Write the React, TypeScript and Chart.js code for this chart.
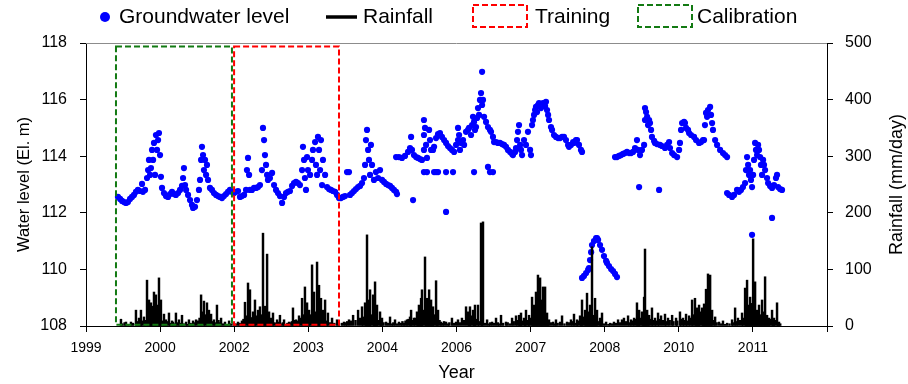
import React, { useEffect, useRef } from 'react';
import { Chart, registerables } from 'chart.js';

Chart.register(...registerables);

// x axis is measured in days from the first tick; one labelled tick every 500 days
const xTickLabels = ['1999', '2000', '2002', '2003', '2004', '2006', '2007', '2008', '2010', '2011'];
const xTickStepDays = 500;
const xAxisEndDay = 4894;

// Groundwater level (El. m) readings: [day, level]
const gwSegment1: [number, number][] = [
  [211, 112.56], [225, 112.49], [238, 112.42], [251, 112.38], [264, 112.35], [277, 112.38], [291, 112.49], [304, 112.56],
  [317, 112.63], [330, 112.74], [343, 112.81], [357, 112.77], [370, 113.02], [376, 112.74], [390, 112.81], [403, 113.23],
  [410, 113.51], [416, 113.87], [423, 113.34], [429, 113.58], [436, 114.22], [443, 113.87], [449, 114.47], [456, 113.34],
  [462, 114.75], [469, 114.22], [476, 114.57], [482, 114.82], [489, 114.04], [495, 113.27], [502, 112.88], [515, 112.70],
  [528, 112.59], [542, 112.56], [555, 112.66], [568, 112.74], [581, 112.66], [594, 112.63], [608, 112.70], [621, 112.81],
  [634, 112.95], [641, 113.23], [647, 113.58], [654, 112.98], [661, 112.81], [674, 112.63], [687, 112.45], [700, 112.28],
  [707, 112.17], [720, 112.21], [733, 112.45], [746, 112.81], [753, 113.16], [760, 113.87], [766, 114.33], [773, 114.04],
  [779, 113.51], [786, 113.87], [793, 113.34], [799, 113.69], [806, 113.16], [819, 112.88], [832, 112.81], [845, 112.70],
  [859, 112.63], [872, 112.59], [885, 112.56], [898, 112.52], [911, 112.59], [925, 112.66], [938, 112.74], [951, 112.81],
  [964, 112.74], [978, 112.70], [991, 112.74], [1004, 112.77], [1017, 112.56], [1030, 112.59], [1044, 112.63], [1057, 112.81],
  [1063, 113.51], [1070, 113.94], [1077, 113.34], [1083, 112.81], [1096, 112.81], [1110, 112.88], [1123, 112.88], [1136, 112.91],
  [1149, 112.98], [1162, 113.51], [1169, 115.0], [1176, 114.57], [1182, 114.04], [1189, 113.69], [1196, 113.34], [1202, 113.16],
  [1215, 113.23], [1229, 113.41], [1242, 112.98], [1255, 112.81], [1268, 112.70], [1281, 112.59], [1295, 112.35], [1308, 112.56],
  [1321, 112.70], [1334, 112.74], [1347, 112.77], [1361, 112.95], [1374, 113.05], [1387, 113.09], [1400, 113.05], [1413, 112.98],
  [1427, 113.51], [1433, 114.33], [1440, 113.87], [1446, 113.23], [1453, 112.81], [1460, 113.97], [1466, 113.51], [1480, 113.34],
  [1493, 113.87], [1499, 114.22], [1513, 114.5], [1519, 113.69], [1526, 113.34], [1532, 114.68], [1539, 114.22], [1546, 113.51],
  [1552, 114.57], [1559, 112.98], [1565, 113.87], [1579, 113.34], [1592, 112.91], [1605, 112.84], [1618, 112.81], [1631, 112.77],
  [1645, 112.74], [1658, 112.63], [1671, 112.52], [1684, 112.52], [1697, 112.56], [1711, 112.59], [1724, 113.44], [1737, 113.44],
  [1744, 112.63], [1757, 112.70], [1770, 112.77], [1783, 112.84], [1797, 112.91], [1810, 112.95], [1823, 113.05], [1836, 113.23],
  [1843, 113.69], [1849, 114.57], [1856, 114.93], [1863, 114.22], [1869, 113.87], [1876, 113.34], [1882, 114.4], [1889, 113.69],
  [1902, 113.16], [1915, 113.44], [1929, 113.23], [1942, 113.51], [1955, 113.16], [1968, 113.09], [1982, 113.02], [1995, 112.98],
  [2008, 112.95], [2021, 112.88], [2034, 112.81], [2048, 112.74], [2054, 112.66],
];

const gwSegment2: [number, number][] = [
  [2048, 113.97], [2067, 113.97], [2087, 113.94], [2107, 114.01], [2127, 114.15], [2140, 114.29], [2147, 114.68], [2153, 114.22],
  [2166, 114.04], [2180, 113.97], [2193, 113.94], [2206, 113.9], [2219, 113.87], [2232, 115.28], [2232, 114.75], [2232, 114.22],
  [2239, 115.0], [2246, 114.4], [2252, 113.94], [2266, 114.93], [2272, 114.57], [2279, 114.22], [2292, 114.22], [2299, 114.33],
  [2312, 114.64], [2325, 114.78], [2338, 114.82], [2351, 114.68], [2365, 114.57], [2378, 114.47], [2391, 114.36], [2404, 114.29],
  [2417, 114.22], [2431, 114.15], [2444, 114.4], [2457, 115.0], [2457, 114.57], [2464, 114.75], [2470, 114.22], [2477, 114.47],
  [2490, 114.57], [2497, 114.4], [2510, 114.86], [2523, 114.93], [2530, 115.0], [2543, 114.75], [2550, 115.1], [2556, 115.39],
  [2563, 115.21], [2569, 114.93], [2576, 115.03], [2583, 115.35], [2589, 115.7], [2596, 115.46], [2602, 115.99], [2609, 116.23],
  [2616, 115.81], [2622, 115.99], [2629, 115.39], [2642, 115.21], [2655, 115.03], [2668, 114.93], [2675, 114.86], [2688, 114.68],
  [2695, 114.5], [2708, 114.5], [2721, 114.47], [2734, 114.47], [2748, 114.43], [2761, 114.4], [2774, 114.33], [2787, 114.22],
  [2801, 114.15], [2814, 114.08], [2820, 114.04], [2834, 114.15], [2840, 114.29], [2847, 114.57], [2853, 114.86], [2860, 115.1],
  [2867, 114.4], [2873, 114.22], [2880, 114.04], [2893, 114.57], [2906, 114.4], [2919, 114.86], [2933, 114.22], [2939, 114.04],
  [2946, 115.1], [2952, 115.28], [2959, 115.46], [2966, 115.63], [2972, 115.74], [2979, 115.56], [2985, 115.81], [2992, 115.88],
  [3005, 115.7], [3018, 115.88], [3032, 115.77], [3038, 115.92], [3045, 115.63], [3052, 115.46], [3058, 115.28], [3071, 115.03],
  [3078, 114.93], [3091, 114.75], [3104, 114.68], [3118, 114.64], [3131, 114.64], [3144, 114.68], [3157, 114.68], [3170, 114.57],
  [3184, 114.4], [3190, 114.33], [3203, 114.4], [3217, 114.5], [3223, 114.47], [3236, 114.57], [3243, 114.57], [3256, 114.4],
  [3269, 114.22], [3276, 114.15],
];

const gwSegment3: [number, number][] = [
  [3276, 109.7], [3289, 109.77], [3303, 109.87], [3316, 109.98], [3322, 110.05], [3329, 110.33], [3336, 110.61], [3342, 110.86],
  [3355, 111.0], [3369, 111.11], [3375, 111.11], [3382, 111.04], [3395, 110.86], [3408, 110.69], [3421, 110.47], [3435, 110.3],
  [3441, 110.23], [3454, 110.12], [3468, 110.01], [3481, 109.94], [3494, 109.84], [3507, 109.73],
];

const gwSegment4: [number, number][] = [
  [3494, 113.97], [3507, 113.97], [3520, 114.01], [3534, 114.04], [3547, 114.08], [3560, 114.11], [3573, 114.15], [3587, 114.11],
  [3600, 114.11], [3613, 114.15], [3626, 114.29], [3639, 114.57], [3646, 114.22], [3659, 114.04], [3672, 114.22], [3686, 114.4],
  [3692, 115.7], [3692, 115.28], [3699, 115.56], [3706, 115.39], [3712, 115.1], [3719, 115.28], [3725, 115.17], [3732, 114.93],
  [3738, 114.68], [3752, 114.54], [3758, 114.47], [3771, 114.43], [3791, 114.4], [3804, 114.36], [3824, 114.29], [3838, 114.4],
  [3851, 114.5], [3857, 114.29], [3871, 114.11], [3884, 114.04], [3904, 113.97], [3917, 114.22], [3923, 114.47], [3930, 114.93],
  [3937, 115.17], [3950, 115.21], [3956, 115.17], [3963, 115.0], [3976, 114.93], [3983, 114.82], [3996, 114.75], [4016, 114.68],
  [4029, 114.57], [4049, 114.47], [4062, 114.5], [4075, 114.57], [4082, 114.57], [4088, 115.1], [4095, 115.53], [4102, 115.39],
  [4108, 115.63], [4122, 115.74], [4128, 115.46], [4135, 115.17], [4141, 114.93], [4155, 114.57], [4168, 114.4], [4188, 114.22],
  [4207, 114.11], [4221, 114.04], [4234, 113.97],
];

const gwSegment5: [number, number][] = [
  [4234, 112.7], [4247, 112.63], [4267, 112.56], [4280, 112.63], [4300, 112.81], [4313, 112.74], [4326, 112.81], [4339, 112.91],
  [4353, 113.05], [4359, 113.51], [4366, 113.97], [4373, 113.69], [4379, 113.34], [4386, 113.51], [4392, 113.16], [4399, 112.91],
  [4406, 113.34], [4412, 113.87], [4419, 114.47], [4425, 114.22], [4432, 114.04], [4439, 114.4], [4445, 114.22], [4452, 113.97],
  [4458, 113.69], [4465, 113.34], [4472, 113.87], [4478, 113.69], [4485, 113.51], [4498, 113.23], [4505, 113.05], [4518, 112.95],
  [4531, 112.88], [4544, 112.98], [4557, 113.23], [4564, 113.34], [4571, 112.91], [4584, 112.84], [4597, 112.81],
];

const gwOutliers: [number, number][] = [
  [2160, 112.45], [2232, 113.44], [2252, 113.44], [2299, 113.44], [2312, 113.44], [2325, 113.44], [2378, 113.44], [2378, 112.03],
  [2424, 113.44], [2563, 113.44], [2616, 116.98], [2655, 113.62], [2668, 113.44], [2688, 113.44], [3653, 112.91], [3785, 112.81],
  [4399, 111.22], [4531, 111.82],
];

// Rainfall (mm/day): the taller daily bars
const rainDays = [
  231, 264, 297, 330, 350, 363, 383, 403, 416, 429, 436, 449, 462, 469, 482, 495, 515, 528, 548, 568, 594, 614, 634, 661, 680,
  707, 727, 760, 779, 799, 812, 826, 845, 865, 892, 918, 945,
  1004, 1030, 1050, 1070, 1083, 1103, 1116, 1136, 1149, 1169, 1182, 1196, 1209, 1222, 1235, 1262, 1281, 1308, 1341, 1367, 1387,
  1407, 1427, 1446, 1460, 1473, 1493, 1506, 1526, 1539, 1552, 1565, 1579, 1598, 1625, 1658, 1704, 1737, 1764, 1797, 1823, 1843,
  1856, 1869, 1876, 1896, 1909, 1922, 1942, 1955, 1982, 2008, 2041,
  2067, 2100, 2120, 2147, 2166, 2186, 2199, 2213, 2219, 2239, 2252, 2266, 2279, 2292, 2312, 2325, 2345, 2378, 2417, 2444, 2457,
  2483, 2510, 2523, 2536, 2556, 2569, 2589, 2609, 2622, 2649, 2682, 2708, 2741, 2774, 2814, 2840, 2860, 2873, 2893, 2906, 2926,
  2946, 2959, 2972, 2985, 2999, 3005, 3018, 3032, 3045, 3058, 3085,
  3104, 3131, 3144, 3177, 3203, 3223, 3243, 3263, 3276, 3296, 3309, 3322, 3329, 3342, 3355, 3362, 3375, 3395, 3408, 3435, 3461,
  3487, 3514, 3540, 3553, 3580, 3600, 3620, 3639, 3653, 3672, 3686, 3692, 3706, 3719, 3738, 3758, 3778, 3798, 3824, 3844, 3871,
  3897, 3923, 3943, 3963, 3983, 4003, 4022, 4036, 4049, 4069, 4082, 4095, 4108, 4122, 4135, 4155, 4181, 4207, 4234,
  4267, 4287, 4306, 4333, 4353, 4366, 4379, 4386, 4406, 4419, 4432, 4445, 4465, 4472, 4485, 4498, 4511, 4531, 4544, 4564, 4577,
];
const rainMm = [
  12, 7, 7, 28, 14, 28, 16, 81, 46, 41, 35, 60, 55, 37, 85, 46, 21, 11, 23, 9, 23, 11, 19, 7, 11,
  9, 11, 55, 44, 41, 28, 21, 11, 37, 14, 7, 9,
  7, 9, 42, 76, 64, 25, 46, 28, 34, 164, 35, 127, 25, 14, 23, 11, 19, 11, 7, 32, 11,
  18, 49, 69, 41, 28, 108, 60, 113, 72, 49, 28, 46, 23, 14, 11, 7, 11, 19, 28, 34, 41,
  161, 46, 64, 55, 78, 37, 25, 14, 7, 16, 11,
  7, 5, 11, 28, 14, 25, 37, 49, 64, 122, 49, 64, 46, 34, 80, 28, 7, 7, 14, 7, 11,
  14, 34, 25, 34, 28, 37, 37, 182, 184, 11, 7, 14, 19, 7, 14, 18, 19, 23, 14, 28, 19,
  51, 37, 60, 90, 85, 46, 69, 69, 23, 11, 7,
  11, 7, 18, 7, 11, 21, 11, 18, 46, 28, 58, 25, 37, 140, 19, 49, 28, 14, 23, 7, 5,
  7, 11, 11, 14, 18, 11, 14, 41, 28, 25, 51, 136, 28, 19, 32, 14, 23, 18, 21, 14, 19,
  14, 25, 14, 21, 18, 46, 49, 32, 37, 32, 39, 65, 92, 90, 28, 16, 7, 9, 5,
  11, 32, 14, 23, 67, 81, 37, 51, 154, 78, 28, 37, 46, 25, 87, 19, 14, 28, 14, 41, 7,
];

// Rainfall (mm/day): the low daily bars that fill the base of the plot
const drizzleDays = [
  240, 255, 280, 310, 340, 356, 370, 390, 409, 422, 442, 455, 475, 488, 505, 520, 535, 555, 575, 585, 604, 624, 645, 670, 690,
  700, 715, 740, 750, 768, 788, 805, 818, 835, 855, 875, 885, 905, 930, 958, 975, 990,
  1015, 1040, 1060, 1077, 1090, 1109, 1123, 1142, 1156, 1175, 1189, 1202, 1215, 1229, 1245, 1255, 1270, 1290, 1300, 1320, 1330,
  1350, 1360, 1375, 1395, 1415, 1435, 1453, 1466, 1480, 1499, 1513, 1532, 1545, 1559, 1572, 1590, 1610, 1640, 1670, 1690, 1715,
  1725, 1750, 1780, 1810, 1830, 1849, 1862, 1882, 1902, 1915, 1930, 1948, 1965, 1995, 2020, 2030, 2055,
  2080, 2090, 2110, 2130, 2140, 2155, 2175, 2192, 2206, 2226, 2246, 2259, 2272, 2286, 2299, 2318, 2335, 2355, 2365, 2390, 2400,
  2430, 2470, 2497, 2530, 2543, 2563, 2576, 2596, 2616, 2635, 2660, 2670, 2695,
  2720, 2730, 2755, 2785, 2800, 2825, 2850, 2866, 2880, 2900, 2918, 2935, 2952, 2966, 2979, 2992, 3012, 3025, 3039, 3052, 3070,
  3095, 3115, 3160, 3190, 3213, 3233, 3250, 3270, 3285, 3302, 3316, 3336, 3349, 3369, 3385, 3402, 3420, 3450, 3475, 3500, 3527,
  3566, 3590, 3610, 3630, 3646, 3660, 3679, 3699, 3712, 3728, 3746, 3765, 3785, 3810, 3830, 3855, 3880, 3905, 3930, 3950, 3970,
  3992, 4010, 4029, 4042, 4056, 4076, 4089, 4102, 4115, 4128, 4145, 4165, 4195, 4220, 4250,
  4275, 4296, 4320, 4340, 4359, 4372, 4392, 4399, 4412, 4425, 4439, 4452, 4458, 4478, 4491, 4505, 4518, 4537, 4551, 4570, 4585,
];
const drizzleMm = [
  4, 6, 3, 5, 8, 12, 9, 10, 18, 22, 25, 30, 20, 15, 9, 6, 8, 5, 7, 4, 6, 5, 4, 3, 5,
  4, 6, 9, 14, 25, 20, 18, 12, 8, 6, 10, 6, 4, 3, 4, 5, 4,
  5, 12, 18, 20, 15, 12, 18, 14, 20, 22, 18, 16, 10, 8, 6, 5, 7, 4, 6, 3, 5,
  6, 8, 10, 9, 14, 20, 22, 25, 20, 30, 25, 28, 22, 18, 12, 9, 6, 5, 4, 5, 6,
  8, 9, 10, 14, 16, 22, 28, 20, 18, 14, 10, 8, 6, 5, 4, 6, 4,
  5, 8, 9, 12, 16, 10, 14, 18, 20, 28, 25, 30, 22, 18, 20, 14, 10, 5, 8, 4, 6,
  5, 6, 10, 14, 18, 14, 12, 8, 10, 5, 4, 6, 5,
  6, 4, 5, 6, 4, 8, 10, 12, 9, 8, 10, 14, 18, 25, 20, 30, 25, 20, 14, 10, 6,
  4, 5, 4, 6, 8, 5, 9, 12, 16, 20, 14, 18, 12, 10, 8, 6, 4, 3, 4, 5, 6,
  8, 6, 9, 12, 18, 14, 16, 20, 14, 12, 10, 9, 12, 10, 8, 10, 8, 9, 12, 10, 9,
  14, 20, 18, 22, 25, 20, 30, 35, 40, 22, 10, 6, 4, 3, 4,
  6, 8, 10, 14, 22, 30, 25, 40, 30, 22, 18, 16, 20, 18, 14, 10, 12, 8, 10, 6, 4,
];

// Dashed period boxes (days) and their vertical extent (El. m)
const calibrationPeriod = [198, 964];
const trainingPeriod = [978, 1671];
const periodBoxLevels = [108.04, 117.88];

const FONT = "'Liberation Sans', Arial, Helvetica, sans-serif";

export default function App() {
  const canvasRef = useRef<HTMLCanvasElement>(null);

  useEffect(() => {
    if (!canvasRef.current) return;
    const gwPoints = [...gwSegment1, ...gwSegment2, ...gwSegment3, ...gwSegment4, ...gwSegment5, ...gwOutliers].map(
      ([x, y]) => ({ x, y })
    );
    const rainPoints = [
      ...drizzleDays.map((d, i) => ({ x: d, y: drizzleMm[i] })),
      ...rainDays.map((d, i) => ({ x: d, y: rainMm[i] })),
    ];

    const overlay = {
      id: 'overlay',
      afterDatasetsDraw(chart: any) {
        const { ctx, scales } = chart;
        const xs = scales.x;
        const ys = scales.y;
        const box = (range: number[], color: string) => {
          const x1 = xs.getPixelForValue(range[0]);
          const x2 = xs.getPixelForValue(range[1]);
          const y1 = ys.getPixelForValue(periodBoxLevels[1]);
          const y2 = ys.getPixelForValue(periodBoxLevels[0]);
          ctx.save();
          ctx.strokeStyle = color;
          ctx.lineWidth = 2;
          ctx.setLineDash([6, 3]);
          ctx.strokeRect(x1, y1, x2 - x1, y2 - y1);
          ctx.restore();
        };
        box(calibrationPeriod, '#137a13');
        box(trainingPeriod, '#ff0000');
      },
      afterDraw(chart: any) {
        const { ctx, chartArea } = chart;
        ctx.save();
        // top frame line
        ctx.strokeStyle = '#8c8c8c';
        ctx.lineWidth = 1;
        ctx.beginPath();
        ctx.moveTo(chartArea.left, chartArea.top + 0.5);
        ctx.lineTo(chartArea.right, chartArea.top + 0.5);
        ctx.stroke();

        // right axis title, reading bottom to top
        ctx.save();
        ctx.translate(897, (chartArea.top + chartArea.bottom) / 2);
        ctx.rotate(-Math.PI / 2);
        ctx.font = `18px ${FONT}`;
        ctx.fillStyle = '#000';
        ctx.textAlign = 'center';
        ctx.textBaseline = 'middle';
        ctx.fillText('Rainfall (mm/day)', 0, 0);
        ctx.restore();

        // legend
        const ly = 17;
        ctx.font = `21px ${FONT}`;
        ctx.textBaseline = 'middle';
        ctx.textAlign = 'left';
        ctx.fillStyle = '#0000ff';
        ctx.beginPath();
        ctx.arc(105, ly, 5, 0, Math.PI * 2);
        ctx.fill();
        ctx.fillStyle = '#000';
        ctx.fillText('Groundwater level', 119, ly);

        ctx.strokeStyle = '#000';
        ctx.lineWidth = 3.5;
        ctx.beginPath();
        ctx.moveTo(326, ly);
        ctx.lineTo(357, ly);
        ctx.stroke();
        ctx.fillText('Rainfall', 363, ly);

        ctx.lineWidth = 2;
        ctx.setLineDash([6, 3]);
        ctx.strokeStyle = '#ff0000';
        ctx.strokeRect(473, 5, 54, 22);
        ctx.strokeStyle = '#137a13';
        ctx.strokeRect(638, 5, 54, 22);
        ctx.setLineDash([]);
        ctx.fillStyle = '#000';
        ctx.fillText('Training', 535, ly);
        ctx.fillText('Calibration', 697, ly);
        ctx.restore();
      },
    };

    const chart = new Chart(canvasRef.current, {
      type: 'scatter',
      data: {
        datasets: [
          {
            type: 'bar',
            label: 'Rainfall',
            data: rainPoints,
            yAxisID: 'yR',
            backgroundColor: '#000',
            borderWidth: 0,
            barThickness: 1.8,
            order: 0,
          } as any,
          {
            type: 'scatter',
            label: 'Groundwater level',
            data: gwPoints,
            yAxisID: 'y',
            backgroundColor: '#0000ff',
            borderWidth: 0,
            pointRadius: 3.1,
            pointHoverRadius: 3.1,
            order: 1,
          },
        ],
      },
      options: {
        animation: false,
        responsive: false,
        maintainAspectRatio: false,
        devicePixelRatio: 1,
        layout: { padding: { top: 43, left: 0, right: 0, bottom: 0 } },
        plugins: { legend: { display: false }, tooltip: { enabled: false } },
        scales: {
          x: {
            type: 'linear',
            position: 'bottom',
            offset: false,
            min: 0,
            max: xAxisEndDay,
            afterFit: (s: any) => {
              s.height = 58;
            },
            ticks: {
              stepSize: xTickStepDays,
              includeBounds: false,
              autoSkip: false,
              maxRotation: 0,
              padding: 8,
              color: '#000',
              font: { family: FONT, size: 14 },
              callback: (v: any) => xTickLabels[Math.round(Number(v) / xTickStepDays)] ?? '',
            },
            grid: { offset: false, drawOnChartArea: false, drawTicks: true, tickLength: 6, color: '#000' },
            border: { display: true, color: '#000', width: 1 },
            title: {
              display: true,
              text: 'Year',
              color: '#000',
              font: { family: FONT, size: 18 },
              padding: { top: 0, bottom: 0 },
            },
          },
          y: {
            type: 'linear',
            position: 'left',
            min: 108,
            max: 118,
            afterFit: (s: any) => {
              s.width = 86;
            },
            ticks: { stepSize: 2, padding: 13, color: '#000', font: { family: FONT, size: 16 } },
            grid: { drawOnChartArea: false, drawTicks: true, tickLength: 6, color: '#000' },
            border: { display: true, color: '#000', width: 1 },
            title: {
              display: true,
              text: 'Water level (El. m)',
              color: '#000',
              font: { family: FONT, size: 16.5 },
              padding: { top: 15, bottom: 0 },
            },
          },
          yR: {
            type: 'linear',
            position: 'right',
            min: 0,
            max: 500,
            afterFit: (s: any) => {
              s.width = 81;
            },
            ticks: { stepSize: 100, padding: 12, color: '#000', font: { family: FONT, size: 16 } },
            grid: { drawOnChartArea: false, drawTicks: true, tickLength: 6, color: '#000' },
            border: { display: true, color: '#000', width: 1 },
            title: { display: false },
          },
        },
      },
      plugins: [overlay],
    });

    return () => chart.destroy();
  }, []);

  return (
    <div style={{ position: 'absolute', left: 0, top: 0, width: 908, height: 384, background: '#fff' }}>
      <canvas ref={canvasRef} width={908} height={384} style={{ display: 'block', width: 908, height: 384 }} />
    </div>
  );
}
